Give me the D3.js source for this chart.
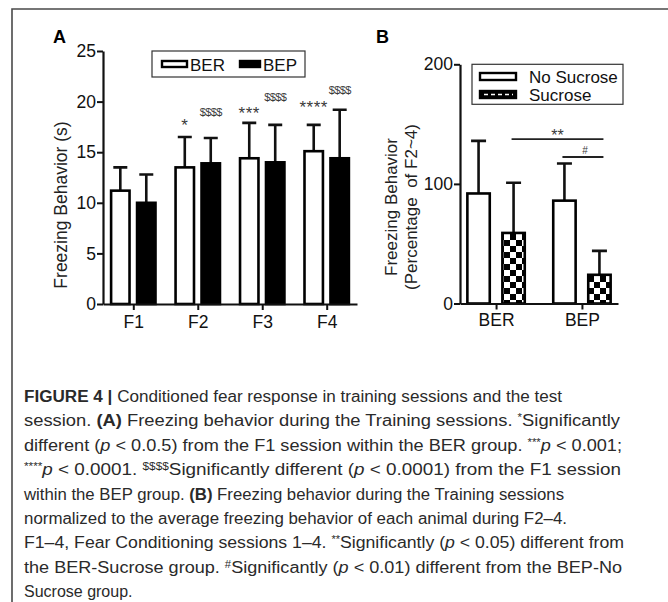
<!DOCTYPE html>
<html>
<head>
<meta charset="utf-8">
<script src="https://cdn.jsdelivr.net/npm/d3@7"></script>
<style>
  body { margin: 0; background: #fff; }
  svg { display: block; font-family: "Liberation Sans", Arial, sans-serif; }
</style>
</head>
<body>
<svg width="668" height="602"></svg>
<script>
// panel A data (seconds, mean and SD)
const sessions = ["F1", "F2", "F3", "F4"]
const groupsA = ["BER", "BEP"]
const berMean = [11.2, 13.5, 14.4, 15.1]
const berSd = [2.3, 3.0, 3.5, 2.6]
const bepMean = [10.0, 13.9, 14.0, 14.4]
const bepSd = [2.8, 2.5, 3.7, 4.8]
const ticksA = [0, 5, 10, 15, 20, 25]
// significance marks over panel A bars (value = baseline height in seconds)
const marksSession = ["F2", "F2", "F3", "F3", "F4", "F4"]
const marksGroup = ["BER", "BEP", "BER", "BEP", "BER", "BEP"]
const marksLabel = ["*", "$$$$", "***", "$$$$", "****", "$$$$"]
const marksValue = [17.05, 18.6, 18.25, 20.05, 18.9, 20.75]

// panel B data (percentage of F2~4)
const groupsB = ["BER", "BEP"]
const conditions = ["No Sucrose", "Sucrose"]
const noSucMean = [92, 86]
const noSucSd = [44, 31]
const sucMean = [59, 24]
const sucSd = [42, 20]
const ticksB = [0, 100, 200]
const compFrom = [["BER", "Sucrose"], ["BEP", "No Sucrose"]]
const compTo = [["BEP", "Sucrose"], ["BEP", "Sucrose"]]
const compValue = [137.5, 122.5]
const compLabel = ["**", "#"]

const ink = "#111"
const svg = d3.select("svg")

svg.append("rect").attr("width", 668).attr("height", 602).attr("fill", "#fff")

// figure frame (top + left rule)
svg.append("path")
  .attr("d", "M12,602V9H668")
  .attr("fill", "none")
  .attr("stroke", "#4a4a4a")
  .attr("stroke-width", 1.6)

// checker pattern for sucrose bars
const defs = svg.append("defs")
const pat = defs.append("pattern")
  .attr("id", "checker")
  .attr("patternUnits", "userSpaceOnUse")
  .attr("width", 12).attr("height", 12)
pat.append("rect").attr("width", 12).attr("height", 12).attr("fill", "#fff")
pat.append("rect").attr("width", 6).attr("height", 6).attr("fill", "#000")
pat.append("rect").attr("x", 6).attr("y", 6).attr("width", 6).attr("height", 6).attr("fill", "#000")

function styleAxis(g) {
  g.select(".domain").attr("stroke", ink).attr("stroke-width", 2.2)
  g.selectAll(".tick line").attr("stroke", ink).attr("stroke-width", 2)
  g.selectAll(".tick text").attr("fill", ink).style("font-size", "17.5px")
    .style("font-family", "Liberation Sans, Arial, sans-serif")
}

// ---------------- panel A ----------------
const yA = d3.scaleLinear().domain([0, 25]).range([304, 51])
const xA = d3.scalePoint().domain(sessions).range([103, 357]).padding(0.47)
const xA1 = d3.scaleBand().domain(groupsA).range([-23.5, 23.5]).paddingInner(0.19)

const dataA = []
sessions.forEach((s, i) => {
  dataA.push({ s: s, g: "BER", m: berMean[i], sd: berSd[i] })
  dataA.push({ s: s, g: "BEP", m: bepMean[i], sd: bepSd[i] })
})

const gA = svg.append("g")

gA.selectAll("line.errA")
  .data(dataA)
  .enter()
  .append("path")
  .attr("d", d => {
    const cx = xA(d.s) + xA1(d.g) + xA1.bandwidth() / 2
    const top = yA(d.m + d.sd)
    return `M${cx},${yA(d.m)}V${top}M${cx - 7},${top}H${cx + 7}`
  })
  .attr("stroke", ink)
  .attr("stroke-width", 2.6)
  .attr("fill", "none")

gA.selectAll("rect.barA")
  .data(dataA)
  .enter()
  .append("rect")
  .attr("x", d => xA(d.s) + xA1(d.g) + 1.3)
  .attr("y", d => yA(d.m))
  .attr("width", xA1.bandwidth() - 2.6)
  .attr("height", d => yA(0) - yA(d.m))
  .attr("fill", d => d.g == "BER" ? "#fff" : "#000")
  .attr("stroke", "#000")
  .attr("stroke-width", 2.6)

gA.selectAll("text.mark")
  .data(marksLabel)
  .enter()
  .append("text")
  .attr("x", (d, i) => xA(marksSession[i]) + xA1(marksGroup[i]) + xA1.bandwidth() / 2)
  .attr("y", (d, i) => yA(marksValue[i]))
  .attr("text-anchor", "middle")
  .attr("fill", "#3a3a3a")
  .style("font-size", d => d.startsWith("$") ? "11px" : "17px")
  .style("letter-spacing", d => d.startsWith("$") ? "-0.6px" : "0.5px")
  .text(d => d)

gA.append("g")
  .attr("transform", "translate(103,0)")
  .call(d3.axisLeft(yA).tickValues(ticksA).tickSize(6).tickSizeOuter(0).tickPadding(1))
  .call(styleAxis)

gA.append("g")
  .attr("transform", "translate(0,304)")
  .call(d3.axisBottom(xA).tickSize(6).tickSizeOuter(0).tickPadding(6))
  .call(styleAxis)

gA.append("text")
  .attr("transform", "translate(67,205) rotate(-90)")
  .attr("text-anchor", "middle")
  .attr("fill", "#222")
  .style("font-size", "17.5px")
  .text("Freezing Behavior (s)")

gA.append("text")
  .attr("x", 53).attr("y", 43)
  .attr("fill", "#000")
  .style("font-size", "18px").style("font-weight", "bold")
  .text("A")

// legend A
const legA = gA.append("g")
legA.append("rect").attr("x", 152).attr("y", 51).attr("width", 153).attr("height", 26)
  .attr("fill", "#fff").attr("stroke", "#333").attr("stroke-width", 1.2)
groupsA.forEach((g, i) => {
  const lx = 161 + i * 78
  legA.append("rect").attr("x", lx + 1).attr("y", 61).attr("width", i == 0 ? 25 : 20).attr("height", 6)
    .attr("fill", i == 0 ? "#fff" : "#000").attr("stroke", "#000").attr("stroke-width", 2.4)
  legA.append("text").attr("x", lx + (i == 0 ? 29 : 24)).attr("y", 70.5)
    .attr("fill", ink).style("font-size", "17px").text(g)
})

// ---------------- panel B ----------------
const yB = d3.scaleLinear().domain([0, 200]).range([303.5, 64.3])
const xB = d3.scalePoint().domain(groupsB).range([460, 618]).padding(0.42)
const xB1 = d3.scaleBand().domain(conditions).range([-30, 30]).paddingInner(0.286)

const dataB = []
groupsB.forEach((g, i) => {
  dataB.push({ g: g, c: "No Sucrose", m: noSucMean[i], sd: noSucSd[i] })
  dataB.push({ g: g, c: "Sucrose", m: sucMean[i], sd: sucSd[i] })
})

const gB = svg.append("g")

gB.selectAll("path.errB")
  .data(dataB)
  .enter()
  .append("path")
  .attr("d", d => {
    const cx = xB(d.g) + xB1(d.c) + xB1.bandwidth() / 2
    const top = yB(d.m + d.sd)
    return `M${cx},${yB(d.m)}V${top}M${cx - 7.5},${top}H${cx + 7.5}`
  })
  .attr("stroke", ink)
  .attr("stroke-width", 2.6)
  .attr("fill", "none")

gB.selectAll("rect.barB")
  .data(dataB)
  .enter()
  .append("rect")
  .attr("x", d => xB(d.g) + xB1(d.c) + 1.3)
  .attr("y", d => yB(d.m))
  .attr("width", xB1.bandwidth() - 2.6)
  .attr("height", d => yB(0) - yB(d.m))
  .attr("fill", d => d.c == "Sucrose" ? "url(#checker)" : "#fff")
  .attr("stroke", "#000")
  .attr("stroke-width", 2.6)

const cxB = p => xB(p[0]) + xB1(p[1]) + xB1.bandwidth() / 2
compLabel.forEach((lab, i) => {
  const x1 = cxB(compFrom[i]) - 2
  const x2 = cxB(compTo[i]) + 4
  const y = yB(compValue[i])
  gB.append("line").attr("x1", x1).attr("x2", x2).attr("y1", y).attr("y2", y)
    .attr("stroke", "#222").attr("stroke-width", 1.8)
  gB.append("text")
    .attr("x", (x1 + x2) / 2 + (lab == "#" ? 2 : 0))
    .attr("y", lab == "#" ? y - 3 : y + 2)
    .attr("text-anchor", "middle")
    .attr("fill", "#3a3a3a")
    .style("font-size", lab == "#" ? "10px" : "16px")
    .text(lab)
})

gB.append("g")
  .attr("transform", "translate(460,0)")
  .call(d3.axisLeft(yB).tickValues(ticksB).tickSize(6).tickSizeOuter(0).tickPadding(1))
  .call(styleAxis)

gB.append("g")
  .attr("transform", "translate(0,303.5)")
  .call(d3.axisBottom(xB).tickSize(6).tickSizeOuter(0).tickPadding(4))
  .call(styleAxis)

const labB = gB.append("text")
  .attr("transform", "translate(396.5,207) rotate(-90)")
  .attr("text-anchor", "middle")
  .attr("fill", "#222")
  .style("font-size", "17px")
  .style("white-space", "pre")
labB.append("tspan").attr("x", 0).attr("dy", 0).text("Freezing Behavior")
labB.append("tspan").attr("x", 0).attr("dy", 20).text("(Percentage  of F2~4)")

gB.append("text")
  .attr("x", 376).attr("y", 43)
  .attr("fill", "#000")
  .style("font-size", "18px").style("font-weight", "bold")
  .text("B")

// legend B
const legB = gB.append("g")
legB.append("rect").attr("x", 472).attr("y", 64.3).attr("width", 151).attr("height", 40)
  .attr("fill", "#fff").attr("stroke", "#333").attr("stroke-width", 1.2)
conditions.forEach((c, i) => {
  const ly = 73 + i * 18
  legB.append("rect").attr("x", 480).attr("y", ly).attr("width", 36).attr("height", 7)
    .attr("fill", i == 0 ? "#fff" : "#000").attr("stroke", "#000").attr("stroke-width", 2.4)
  if (i == 1) {
    legB.append("line").attr("x1", 484).attr("x2", 513).attr("y1", ly + 3.5).attr("y2", ly + 3.5)
      .attr("stroke", "#fff").attr("stroke-width", 1.4).attr("stroke-dasharray", "4,3")
  }
  legB.append("text").attr("x", 529).attr("y", ly + 9.5)
    .attr("fill", ink).style("font-size", "17px").text(c)
})

// ---------------- caption ----------------
const captionLines = [
  [["b", "FIGURE 4 |"], ["", " Conditioned fear response in training sessions and the test"]],
  [["", "session. "], ["b", "(A)"], ["", " Freezing behavior during the Training sessions. "], ["s", "*"], ["", "Significantly"]],
  [["", "different ("], ["i", "p"], ["", " < 0.0.5) from the F1 session within the BER group. "], ["s", "***"], ["i", "p"], ["", " < 0.001;"]],
  [["s", "****"], ["i", "p"], ["", " < 0.0001. "], ["s", "$$$$"], ["", "Significantly different ("], ["i", "p"], ["", " < 0.0001) from the F1 session"]],
  [["", "within the BEP group. "], ["b", "(B)"], ["", " Freezing behavior during the Training sessions"]],
  [["", "normalized to the average freezing behavior of each animal during F2–4."]],
  [["", "F1–4, Fear Conditioning sessions 1–4. "], ["s", "**"], ["", "Significantly ("], ["i", "p"], ["", " < 0.05) different from"]],
  [["", "the BER-Sucrose group. "], ["s", "#"], ["", "Significantly ("], ["i", "p"], ["", " < 0.01) different from the BEP-No"]],
  [["", "Sucrose group."]]
]
const captionWidths = [538, 596, 598, 597, 540, 543, 600, 598, 0]

const cap = svg.append("g").attr("fill", "#2a2a2a")
captionLines.forEach((line, i) => {
  const t = cap.append("text")
    .attr("x", 24)
    .attr("y", 402 + i * 24.4)
    .style("font-size", "16px")
    .style("white-space", "pre")
  if (captionWidths[i] > 0) t.attr("textLength", captionWidths[i]).attr("lengthAdjust", "spacingAndGlyphs")
  let raised = false
  line.forEach(part => {
    const sp = t.append("tspan").text(part[1])
    if (part[0] == "b") sp.style("font-weight", "bold")
    if (part[0] == "i") sp.style("font-style", "italic")
    if (part[0] == "s") {
      sp.style("font-size", "10px").attr("dy", raised ? 0 : -5)
      raised = true
    } else if (raised) {
      sp.attr("dy", 5)
      raised = false
    }
  })
})
</script>
</body>
</html>
